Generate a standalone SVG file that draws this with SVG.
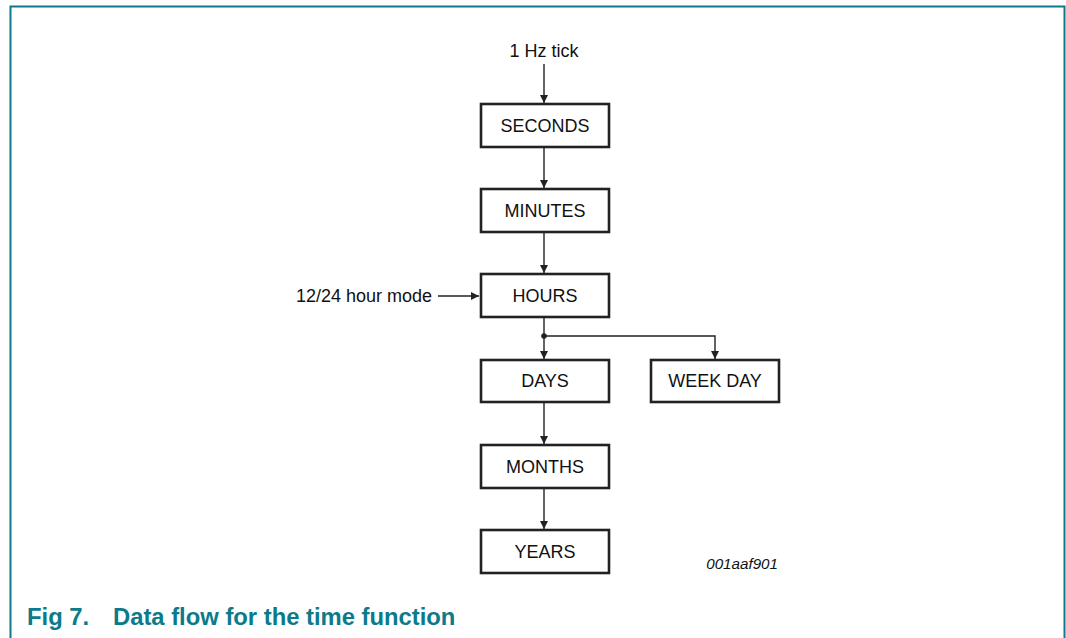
<svg xmlns="http://www.w3.org/2000/svg" width="1066" height="638" viewBox="0 0 1066 638">
<defs>
<style>
.frame{fill:none;stroke:#0b7a8a;stroke-width:2}
.box{fill:#fff;stroke:#222;stroke-width:2.6}
.lbl{font-family:"Liberation Sans",Arial,sans-serif;font-size:18px;fill:#111;text-anchor:middle}
.ext{font-family:"Liberation Sans",Arial,sans-serif;font-size:18px;fill:#111}
.wire{fill:none;stroke:#222;stroke-width:1.4}
.code{font-family:"Liberation Sans",Arial,sans-serif;font-size:15.2px;font-style:italic;fill:#111}
.cap{font-family:"Liberation Sans",Arial,sans-serif;font-size:23.8px;font-weight:bold;fill:#0b7a8a}
</style>
<marker id="ah" viewBox="0 0 10 10" refX="10" refY="5" markerWidth="8" markerHeight="8" markerUnits="userSpaceOnUse" orient="auto">
<path d="M0,0 L10,5 L0,10 z" fill="#222"/>
</marker>
</defs>
<rect width="1066" height="638" fill="#fff"/>
<path class="frame" d="M10.5,638 V6.5 H1064.5 V638"/>
<g id="connectors">
<line class="wire" x1="544" y1="64" x2="544" y2="103" marker-end="url(#ah)"/>
<line class="wire" x1="544" y1="147" x2="544" y2="188" marker-end="url(#ah)"/>
<line class="wire" x1="544" y1="232" x2="544" y2="273" marker-end="url(#ah)"/>
<line class="wire" x1="438" y1="296" x2="479" y2="296" marker-end="url(#ah)"/>
<line class="wire" x1="544" y1="317" x2="544" y2="359" marker-end="url(#ah)"/>
<polyline class="wire" points="544,336 715,336 715,359" marker-end="url(#ah)"/>
<circle cx="544" cy="336" r="2.8" fill="#222"/>
<line class="wire" x1="544" y1="402" x2="544" y2="444" marker-end="url(#ah)"/>
<line class="wire" x1="544" y1="488" x2="544" y2="529" marker-end="url(#ah)"/>
</g>
<g id="tick"><text class="lbl" x="544" y="57">1 Hz tick</text></g>
<g id="mode"><text class="ext" x="432" y="302" text-anchor="end">12/24 hour mode</text></g>
<g id="seconds"><rect class="box" x="481" y="104" width="128" height="43"/><text class="lbl" x="545" y="132">SECONDS</text></g>
<g id="minutes"><rect class="box" x="481" y="189" width="128" height="43"/><text class="lbl" x="545" y="217">MINUTES</text></g>
<g id="hours"><rect class="box" x="481" y="274" width="128" height="43"/><text class="lbl" x="545" y="302">HOURS</text></g>
<g id="days"><rect class="box" x="481" y="360" width="128" height="42"/><text class="lbl" x="545" y="387">DAYS</text></g>
<g id="weekday"><rect class="box" x="651" y="360" width="128" height="42"/><text class="lbl" x="715" y="387">WEEK DAY</text></g>
<g id="months"><rect class="box" x="481" y="445" width="128" height="43"/><text class="lbl" x="545" y="473">MONTHS</text></g>
<g id="years"><rect class="box" x="481" y="530" width="128" height="43"/><text class="lbl" x="545" y="558">YEARS</text></g>
<text class="code" x="778" y="569" text-anchor="end">001aaf901</text>
<text class="cap" x="27" y="625">Fig 7.</text>
<text class="cap" x="113" y="625">Data flow for the time function</text>
</svg>
